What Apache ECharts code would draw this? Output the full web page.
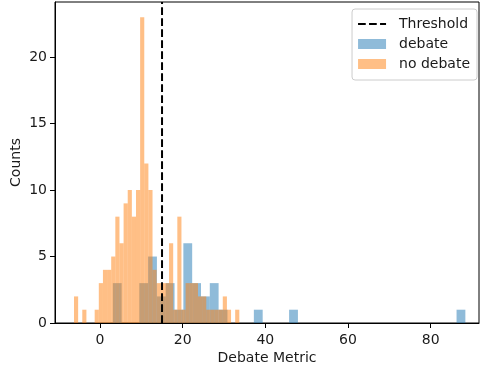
<!DOCTYPE html>
<html>
<head>
<meta charset="utf-8">
<script src="https://cdn.jsdelivr.net/npm/echarts@6/dist/echarts.min.js"></script>
<style>
html, body { margin: 0; padding: 0; background: #fff; }
#chart { width: 480px; height: 368px; }
</style>
</head>
<body>
<div id="chart"></div>
<script>
// histogram data, 40 bins per group
var debateStart = 3.1;
var debateBinWidth = 2.1325;
var debateCounts = [3, 0, 0, 3, 5, 2, 3, 1, 6, 3, 2, 3, 1, 0, 0, 0, 1, 0, 0, 0,
                    1, 0, 0, 0, 0, 0, 0, 0, 0, 0, 0, 0, 0, 0, 0, 0, 0, 0, 0, 1];
var noDebateStart = -6.3;
var noDebateBinWidth = 1.0;
var noDebateCounts = [2, 0, 1, 0, 0, 1, 3, 4, 4, 5, 8, 6, 9, 10, 8, 10, 23, 12, 10, 4,
                      3, 3, 3, 6, 1, 8, 1, 3, 3, 3, 2, 2, 1, 1, 1, 1, 2, 1, 0, 1];
var threshold = 15;
var xTicks = [0, 20, 40, 60, 80];
var yMax = 24.15;

var font = 'DejaVu Sans';
var textColor = '#1a1a1a';

function toBins(start, width, counts) {
    var out = [];
    for (var i = 0; i < counts.length; i++) {
        if (counts[i] > 0) out.push([start + i * width, start + (i + 1) * width, counts[i]]);
    }
    return out;
}

function renderBin(params, api) {
    var p0 = api.coord([api.value(0), api.value(2)]);
    var p1 = api.coord([api.value(1), 0]);
    return {
        type: 'rect',
        shape: { x: p0[0], y: p0[1], width: p1[0] - p0[0], height: p1[1] - p0[1] },
        style: api.style()
    };
}

var myChart = echarts.init(document.getElementById('chart'));
var option = {
    animation: false,
    textStyle: { fontFamily: font },
    grid: {
        left: 55,
        right: 1,
        top: 2,
        bottom: 45,
        outerBoundsMode: 'none',
        show: true,
        borderColor: '#000',
        borderWidth: 1,
    },
    legend: {
        orient: 'vertical',
        right: 3,
        top: 9,
        itemWidth: 28,
        itemHeight: 10,
        itemGap: 6,
        padding: [8, 7, 9, 5],
        backgroundColor: 'rgba(255,255,255,0.8)',
        borderColor: '#cccccc',
        borderWidth: 1,
        borderRadius: 3,
        textStyle: { fontSize: 14, color: textColor, fontFamily: font, padding: [0, 0, 0, 8] },
        data: [
            { name: 'Threshold', itemStyle: { opacity: 0 } },
            { name: 'debate', icon: 'rect' },
            { name: 'no debate', icon: 'rect' }
        ]
    },
    xAxis: {
        type: 'value',
        min: -10.9,
        max: 91.7,
        name: 'Debate Metric',
        nameLocation: 'middle',
        nameGap: 28,
        nameMoveOverlap: false,
        nameTextStyle: { fontSize: 14, color: textColor, fontFamily: font },
        splitLine: { show: false },
        axisLine: { onZero: false, lineStyle: { color: '#000', width: 1 } },
        axisTick: { customValues: xTicks, length: 5, lineStyle: { color: '#000' } },
        axisLabel: { customValues: xTicks, margin: 10, fontSize: 14, color: textColor, fontFamily: font },
    },
    yAxis: {
        type: 'value',
        min: 0,
        max: yMax,
        interval: 5,
        name: 'Counts',
        nameLocation: 'middle',
        nameGap: 32,
        nameMoveOverlap: false,
        nameTextStyle: { fontSize: 14, color: textColor, fontFamily: font },
        splitLine: { show: false },
        axisLine: { show: true, onZero: false, lineStyle: { color: '#000', width: 1 } },
        axisTick: { show: true, length: 5, lineStyle: { color: '#000' } },
        axisLabel: { margin: 8, fontSize: 14, color: textColor, fontFamily: font, showMaxLabel: false },
    },
    series: [{
        name: 'debate',
        type: 'custom',
        renderItem: renderBin,
        encode: { x: [0, 1], y: 2 },
        itemStyle: { color: 'rgba(31,119,180,0.5)' },
        data: toBins(debateStart, debateBinWidth, debateCounts)
    }, {
        name: 'no debate',
        type: 'custom',
        renderItem: renderBin,
        encode: { x: [0, 1], y: 2 },
        itemStyle: { color: 'rgba(255,127,14,0.5)' },
        data: toBins(noDebateStart, noDebateBinWidth, noDebateCounts)
    }, {
        name: 'Threshold',
        type: 'line',
        symbol: 'none',
        silent: true,
        z: 5,
        lineStyle: { color: '#000', width: 2, type: [7.7, 3.3] },
        itemStyle: { color: 'rgba(0,0,0,0)' },
        data: [[threshold, 0], [threshold, yMax]]
    }]
};

myChart.setOption(option);
</script>
</body>
</html>
